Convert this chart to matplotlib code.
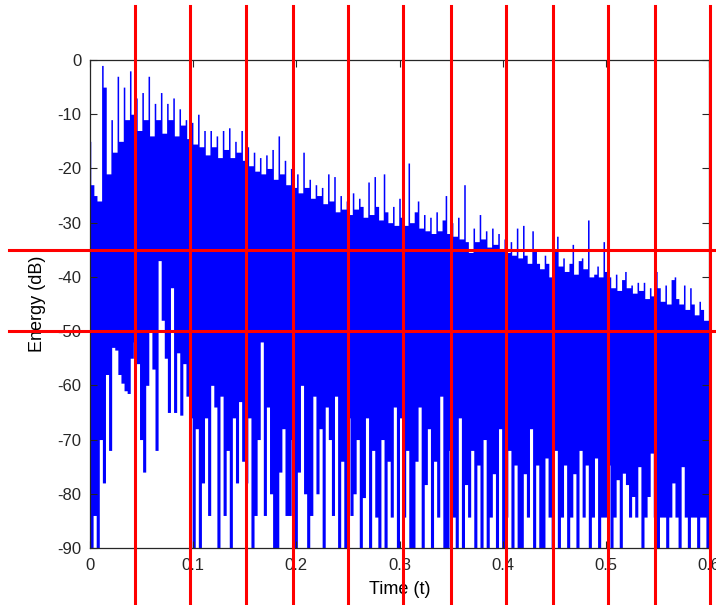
import numpy as np
import matplotlib.pyplot as plt

plt.rcParams['font.family'] = ['Liberation Sans', 'DejaVu Sans']
plt.rcParams['axes.unicode_minus'] = False

# upper peaks of the energy decay (dB), one every 3 ms
peak_db = [
    -15, -23, -25, -26, -1, -5, -21, -11, -17, -3,
    -15, -5, -11, -2, -10, -7, -13, -6, -11, -3,
    -14, -8, -11, -6, -13.5, -8, -11, -7, -14, -9,
    -12, -11, -14.5, -11.5, -15.5, -10, -16, -13, -17.5, -13,
    -16, -14, -18, -13, -16.5, -12.5, -18, -15, -17, -13,
    -18.5, -16, -19.5, -17, -20.5, -18, -21, -17.5, -20, -16.5,
    -22, -14, -21, -18.5, -23, -20, -23.5, -21, -24.5, -17,
    -23.5, -22, -25.5, -23, -25, -23.5, -26.5, -21, -26, -21.5,
    -28, -25, -27.5, -26, -28.5, -24.5, -27.5, -25.5, -27, -29,
    -22.5, -28.5, -21.5, -27, -29.5, -21, -28, -30, -27, -30.5,
    -25.5, -29, -30.5, -19, -30, -28, -26, -31, -28.5, -31.5,
    -29, -32, -28, -31.5, -29.5, -25, -32, -30, -32.5, -29,
    -33, -23, -33.5, -35.5, -31, -33.5, -28.5, -33, -31.5, -34.5,
    -31, -34, -32, -35, -33, -35.5, -33.5, -36, -31, -36.5,
    -30.5, -36, -37.5, -31.5, -35, -37.5, -38.5, -36, -37.5, -40,
    -35, -32.5, -38, -36.5, -39, -37.5, -34, -39.5, -37, -36.5,
    -38.5, -29.5, -40, -39.5, -38, -40, -33.5, -39, -40, -42,
    -39.5, -42.5, -40.5, -39, -42, -41.5, -43, -41, -42.5, -41,
    -44, -42, -43.5, -39, -42, -44.5, -41.5, -45, -40.5, -40,
    -44, -45, -41.5, -46, -42, -45, -47, -44.5, -46, -48,
    -48,
]

# lower troughs between the peaks (dB); values below -90 fall off the axes
trough_db = [
    -95, -84, -95, -70, -78, -58, -72, -53, -53.5, -58,
    -59.6, -61, -61.5, -55, -52, -56, -70, -76, -60, -50,
    -57, -72, -37, -48, -55, -65, -42, -65, -54, -65.5,
    -56, -62, -66, -95, -68, -95, -78, -66, -84, -60,
    -64, -95, -62, -84, -72, -90, -66, -78, -63, -74,
    -78, -66, -90, -84, -70, -52, -84, -64, -80, -95,
    -95, -76, -68, -84, -84, -70, -90, -76, -60, -80,
    -95, -84, -62, -80, -68, -90, -64, -70, -84, -62,
    -95, -74, -95, -66, -84, -80, -70, -95, -80.7, -66,
    -95, -72, -84.3, -90.3, -70, -100, -74, -84.3, -64, -95,
    -66, -84.3, -72, -90.3, -95, -74, -64, -90.3, -78.3, -68,
    -100, -74, -84.3, -62, -90.3, -95, -72, -84.3, -90.3, -66,
    -100, -78.3, -84.3, -72, -95, -74.7, -90.3, -70, -100, -84.3,
    -76.3, -90.3, -68, -100, -84.3, -72, -90.3, -74.7, -95, -100,
    -76.3, -84.3, -68, -95, -74.7, -90.3, -100, -73.4, -84.3, -90.3,
    -72, -95, -84.3, -74.7, -90.3, -84.3, -76.3, -95, -72, -84.3,
    -74.7, -100, -84.3, -73.4, -90.3, -84.3, -84.3, -74.7, -100, -84.3,
    -77.4, -90.3, -76.2, -78.3, -84.3, -80.5, -84.3, -75, -100, -84.3,
    -80.5, -72.5, -84.3, -90.3, -84.3, -84.3, -100, -84.3, -78, -84.3,
    -90.3, -75, -84.3, -100, -84.3, -84.3, -90.3, -84.3, -84.3, -100,
]

sample_step = 0.003  # s between peaks

# red marker lines
marker_t = [0.044, 0.097, 0.151, 0.197, 0.25, 0.303, 0.35,
            0.403, 0.449, 0.502, 0.548, 0.601]
marker_db = [-35, -50]

xticks = [0, 0.1, 0.2, 0.3, 0.4, 0.5, 0.6]
xticklabels = ['0', '0.1', '0.2', '0.3', '0.4', '0.5', '0.6']
yticks = [0, -10, -20, -30, -40, -50, -60, -70, -80, -90]

# each trough spans one sample interval; inside it the top is the left
# peak, then the lower of the two peaks, then the right peak
edges, top, bottom = [], [], []
for k, tr in enumerate(trough_db):
    t0 = k * sample_step
    p_left, p_right = peak_db[k], peak_db[k + 1]
    edges += [t0, t0 + sample_step / 4, t0 + 3 * sample_step / 4]
    top += [p_left, min(p_left, p_right), p_right]
    bottom += [tr, tr, tr]
edges.append(len(trough_db) * sample_step)
top.append(top[-1])
bottom.append(bottom[-1])

fig = plt.figure(figsize=(7.16, 6.05), dpi=100)
ax = fig.add_axes([90 / 716, 1 - 548 / 605, 619 / 716, 488 / 605])

ax.fill_between(edges, bottom, top, step='post', color='#0000ff', linewidth=0)

ax.set_xlim(0, 0.6)
ax.set_ylim(-90, 0)
ax.set_xticks(xticks)
ax.set_xticklabels(xticklabels)
ax.set_yticks(yticks)
ax.set_yticklabels([str(v) for v in yticks])
ax.tick_params(direction='in', length=5, width=0.8, top=True, right=True,
               labelsize=12, colors='#262626')
ax.tick_params(axis='x', pad=7)
ax.tick_params(axis='y', pad=6)
for s in ax.spines.values():
    s.set_linewidth(0.9)
    s.set_color('#262626')

ax.set_xlabel('Time (t)', fontsize=13, labelpad=6)
ax.set_ylabel('Energy (dB)', fontsize=13, labelpad=8)

for mt in marker_t:
    ax.axvline(mt, ymin=-0.13, ymax=1.111, color='#ff0000', linewidth=2.2,
               clip_on=False, zorder=5)
for md in marker_db:
    ax.axhline(md, xmin=-0.131, xmax=1.02, color='#ff0000', linewidth=2.2,
               clip_on=False, zorder=5)

fig.savefig('out.png', dpi=100)
